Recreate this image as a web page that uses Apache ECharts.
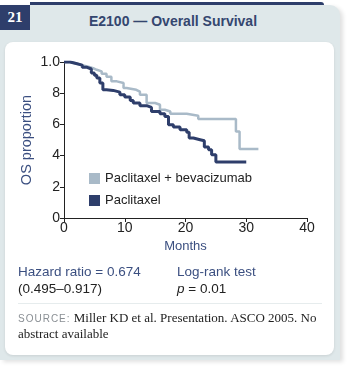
<!DOCTYPE html>
<html>
<head>
<meta charset="utf-8">
<script src="https://cdn.jsdelivr.net/npm/echarts@6/dist/echarts.min.js"></script>
<style>
  html, body { margin: 0; padding: 0; background: #ffffff; }
  #wrap { position: relative; width: 350px; height: 368px; overflow: hidden; font-family: "Liberation Sans", Arial, sans-serif; }
  .topline { position: absolute; left: 30px; top: 2px; width: 294px; height: 3px; background: #2e3e6b; border-top-right-radius: 3px; }
  .panel { position: absolute; left: 0; top: 5px; width: 340px; height: 355px; background: #dfe8ea; border-top-right-radius: 10px; box-shadow: 3px 2px 4px rgba(0,0,0,0.12); }
  .num { position: absolute; left: 0; top: 5px; width: 30px; height: 25px; background: #2e3e6b; color: #fff; font: bold 15px "Liberation Serif", serif; text-align: center; line-height: 25px; }
  .title { position: absolute; left: 0; top: 13px; width: 346px; text-align: center; color: #34466f; font: bold 14px "Liberation Sans", Arial, sans-serif; }
  .card { position: absolute; left: 5px; top: 42px; width: 329px; height: 313px; background: #fff; border-radius: 8px; box-shadow: 0 1px 3px rgba(0,0,0,0.10); }
  #chart { position: absolute; left: 0; top: 0; width: 350px; height: 368px; }
  .stat { position: absolute; font-size: 13.5px; line-height: 17px; }
  .stat .a { color: #3b4f80; }
  .stat .b { color: #222; }
  .sep { position: absolute; left: 18px; top: 303px; width: 304px; height: 1px; background: #e6eced; }
  .src { position: absolute; left: 18px; top: 310px; width: 315px; font: 13px "Liberation Serif", serif; color: #222; line-height: 16px; }
  .src .lab { font: 10px "Liberation Sans", Arial, sans-serif; letter-spacing: 1px; color: #8a8f94; }
</style>
</head>
<body>
<div id="wrap">
  <div class="panel"></div>
  <div class="topline"></div>
  <div class="num">21</div>
  <div class="title">E2100 — Overall Survival</div>
  <div class="card"></div>
  <div id="chart"></div>
  <div class="stat" style="left:18px; top:263px;"><div class="a">Hazard ratio = 0.674</div><div class="b">(0.495–0.917)</div></div>
  <div class="stat" style="left:177px; top:263px;"><div class="a">Log-rank test</div><div class="b"><i>p</i> = 0.01</div></div>
  <div class="sep"></div>
  <div class="src"><span class="lab">SOURCE:</span> Miller KD et al. Presentation. ASCO 2005. No abstract available</div>
</div>
<script>
// months, survival proportion (step after each event)
var bevMonths = [0, 1, 2, 3, 4, 4.8, 5.4, 6.2, 7.0, 7.8, 8.7, 9.8, 10.3, 11.9, 12.5, 13.6, 15.0, 15.8, 16.6, 17.5, 20.2, 22.1, 28.3, 28.9, 32.0];
var bevSurv   = [1.0, 0.99, 0.98, 0.97, 0.96, 0.95, 0.94, 0.925, 0.905, 0.876, 0.865, 0.833, 0.822, 0.81, 0.79, 0.737, 0.726, 0.694, 0.683, 0.668, 0.656, 0.635, 0.555, 0.442, 0.442];

var pacMonths = [0, 1, 2, 3, 3.7, 4.5, 5.0, 5.4, 5.9, 6.4, 7.0, 8.1, 9.2, 10.0, 10.9, 11.4, 12.5, 13.6, 14.4, 15.8, 16.6, 17.2, 18.0, 19.1, 20.2, 20.6, 21.3, 22.4, 23.1, 23.8, 24.3, 25.0, 30.0];
var pacSurv   = [1.0, 0.99, 0.98, 0.967, 0.955, 0.93, 0.915, 0.897, 0.865, 0.822, 0.818, 0.807, 0.79, 0.775, 0.754, 0.737, 0.72, 0.709, 0.683, 0.668, 0.651, 0.598, 0.583, 0.566, 0.549, 0.513, 0.502, 0.495, 0.455, 0.438, 0.406, 0.359, 0.359];

var seriesNames = ['Paclitaxel + bevacizumab', 'Paclitaxel'];
var xTicks = [0, 10, 20, 30, 40];
var yTickLabels = ['0', '2', '4', '6', '8', '1.0'];

function pairs(xs, ys) {
  return xs.map(function (x, i) { return [x, ys[i]]; });
}

var chart = echarts.init(document.getElementById('chart'));
chart.setOption({
  animation: false,
  grid: { left: 64, right: 43, top: 62, bottom: 150, containLabel: false },
  legend: {
    left: 84, top: 167, orient: 'vertical', icon: 'rect',
    itemWidth: 11, itemHeight: 11, itemGap: 9,
    textStyle: { fontFamily: 'Liberation Sans', fontSize: 13, color: '#222' },
    data: seriesNames
  },
  xAxis: {
    type: 'value', min: 0, max: 40, interval: 10,
    name: 'Months', nameLocation: 'middle', nameGap: 22,
    nameTextStyle: { fontFamily: 'Liberation Sans', fontSize: 13, color: '#3b4f80' },
    axisLine: { lineStyle: { color: '#222', width: 1 } },
    axisTick: { length: 4, lineStyle: { color: '#222' } },
    axisLabel: { fontFamily: 'Liberation Sans', fontSize: 14, color: '#222', margin: 3,
      formatter: function (v) { return xTicks.indexOf(v) >= 0 ? String(v) : ''; } },
    splitLine: { show: false }
  },
  yAxis: {
    type: 'value', min: 0, max: 1, interval: 0.2,
    name: 'OS proportion', nameLocation: 'middle', nameGap: 30, nameMoveOverlap: false,
    nameTextStyle: { fontFamily: 'Liberation Sans', fontSize: 14.5, color: '#3b4f80' },
    axisLine: { show: true, lineStyle: { color: '#222', width: 1 } },
    axisTick: { show: true, length: 4, lineStyle: { color: '#222' } },
    axisLabel: { fontFamily: 'Liberation Sans', fontSize: 14, color: '#222', margin: 4,
      formatter: function (v) { return yTickLabels[Math.round(v * 5)]; } },
    splitLine: { show: false }
  },
  series: [
    {
      name: seriesNames[0], type: 'line', step: 'end', showSymbol: false,
      color: '#a9bac8', lineStyle: { width: 2.5, color: '#a9bac8' },
      data: pairs(bevMonths, bevSurv)
    },
    {
      name: seriesNames[1], type: 'line', step: 'end', showSymbol: false,
      color: '#2e3e6b', lineStyle: { width: 3, color: '#2e3e6b' },
      data: pairs(pacMonths, pacSurv)
    }
  ]
});
</script>
</body>
</html>
